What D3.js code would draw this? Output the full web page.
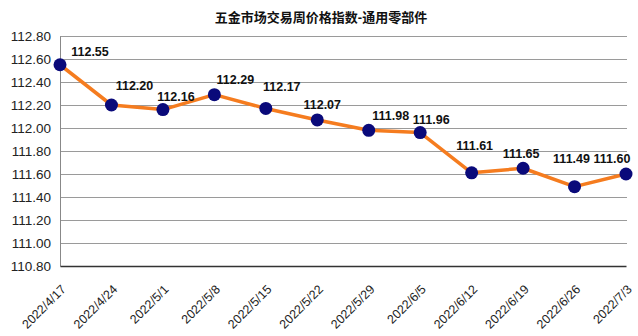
<!DOCTYPE html>
<html>
<head>
<meta charset="utf-8">
<script src="https://cdn.jsdelivr.net/npm/d3@7"></script>
<style>
  body { margin: 0; background: #fff; }
  text { font-family: Arial, "Liberation Sans", "Noto Sans CJK SC", sans-serif; }
</style>
</head>
<body>
<svg id="chart" width="638" height="336"></svg>
<script>
const dates = ["2022/4/17", "2022/4/24", "2022/5/1", "2022/5/8", "2022/5/15", "2022/5/22",
    "2022/5/29", "2022/6/5", "2022/6/12", "2022/6/19", "2022/6/26", "2022/7/3"];
const values = [112.55, 112.20, 112.16, 112.29, 112.17, 112.07, 111.98, 111.96, 111.61, 111.65, 111.49, 111.60];
const yTicks = [110.8, 111.0, 111.2, 111.4, 111.6, 111.8, 112.0, 112.2, 112.4, 112.6, 112.8];

// label nudges (dx, dy) so the numbers sit like the original
const labelNudge = [[30, -9], [23, -15], [13, -9], [21, -11], [16, -17], [5, -11],
    [22, -10], [11, -9], [3, -23], [-2, -10], [-3, -24], [-14, -11]];

const svg = d3.select("#chart");
const margin = { left: 60, right: 12, top: 36, bottom: 70 };
const width = 638, height = 336;

const x = d3.scalePoint()
    .domain(dates)
    .range([margin.left, 626]);

const y = d3.scaleLinear()
    .domain([110.8, 112.8])
    .range([height - margin.bottom, margin.top]);

// title
svg.append("text")
    .attr("x", 321)
    .attr("y", 22)
    .attr("text-anchor", "middle")
    .attr("font-size", "13px")
    .attr("font-weight", "bold")
    .attr("fill", "#111")
    .text("五金市场交易周价格指数-通用零部件");

// grid lines
svg.append("g")
    .selectAll("line")
    .data(yTicks.slice(1))
    .join("line")
    .attr("x1", margin.left)
    .attr("x2", 627)
    .attr("y1", d => Math.round(y(d)) + 0.5)
    .attr("y2", d => Math.round(y(d)) + 0.5)
    .attr("stroke", "#9a9a9a")
    .attr("stroke-width", 1.2);

// y axis
const yAxis = svg.append("g")
    .attr("transform", `translate(${margin.left},0)`)
    .call(d3.axisLeft(y).tickValues(yTicks).tickFormat(d3.format(".2f")).tickSize(0).tickPadding(9));
yAxis.select(".domain").attr("stroke", "#888");
yAxis.selectAll("text")
    .attr("font-size", "13.5px")
    .attr("fill", "#222")
    .style("font-family", "Arial, 'Liberation Sans', sans-serif");

// x axis
const xAxis = svg.append("g")
    .attr("transform", `translate(0,${y(110.8)})`)
    .call(d3.axisBottom(x).tickSize(0).tickPadding(0));
xAxis.select(".domain").attr("stroke", "#333").attr("stroke-width", 1.5);
xAxis.selectAll("text")
    .attr("font-size", "12.5px")
    .attr("fill", "#222")
    .attr("text-anchor", "end")
    .attr("dy", "0.35em")
    .attr("transform", "translate(3,21) rotate(-45)")
    .style("font-family", "Arial, 'Liberation Sans', sans-serif");

// line
const line = d3.line()
    .x((d, i) => x(dates[i]))
    .y(d => y(d));

svg.append("path")
    .datum(values)
    .attr("d", line)
    .attr("fill", "none")
    .attr("stroke", "#F57C1F")
    .attr("stroke-width", 3.5)
    .attr("stroke-linejoin", "round");

// markers
svg.append("g")
    .selectAll("circle")
    .data(values)
    .join("circle")
    .attr("cx", (d, i) => x(dates[i]))
    .attr("cy", d => y(d))
    .attr("r", 6.5)
    .attr("fill", "#0A0A7A");

// value labels
svg.append("g")
    .selectAll("text")
    .data(values)
    .join("text")
    .attr("x", (d, i) => x(dates[i]) + labelNudge[i][0])
    .attr("y", (d, i) => y(d) + labelNudge[i][1])
    .attr("text-anchor", "middle")
    .attr("font-size", "12.5px")
    .attr("font-weight", "bold")
    .attr("fill", "#111")
    .text(d => d.toFixed(2));
</script>
</body>
</html>
